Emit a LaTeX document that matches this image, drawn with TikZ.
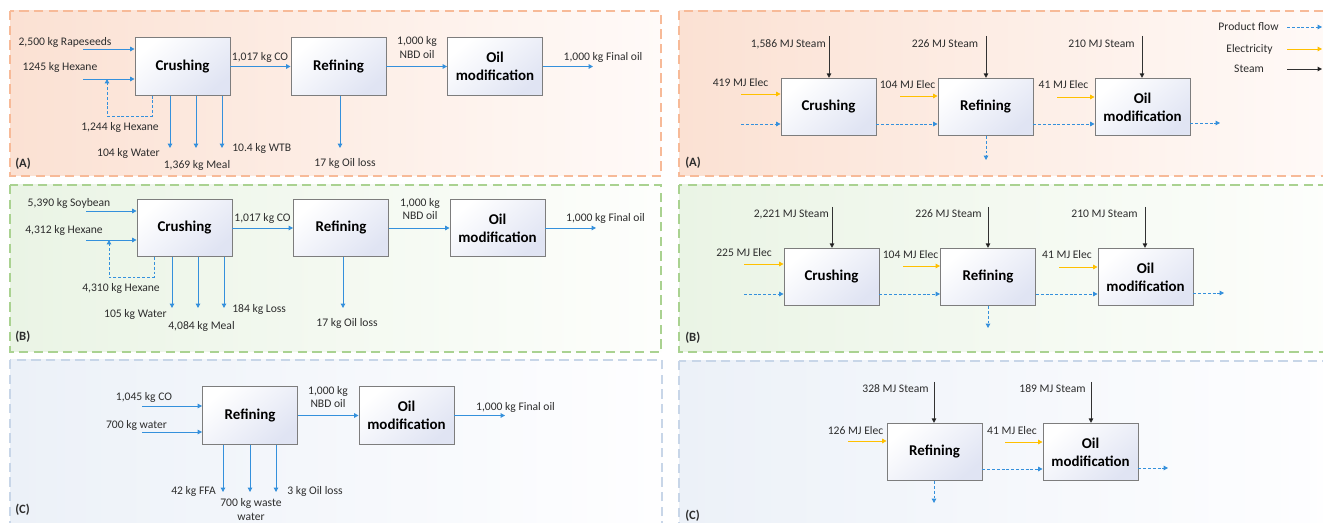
\documentclass[tikz,border=0pt]{standalone}
\usepackage{fontspec}
\setmainfont{Carlito}
\usetikzlibrary{arrows.meta}

\definecolor{txt}{RGB}{45,45,45}
\definecolor{flow}{RGB}{52,144,220}
\definecolor{elecc}{RGB}{255,192,0}
\definecolor{steamc}{RGB}{50,50,50}
\definecolor{boxline}{RGB}{125,125,125}
\definecolor{boxtl}{RGB}{224,228,243}
% panel frames and tints
\definecolor{orframe}{RGB}{247,186,152}
\definecolor{orL}{RGB}{251,225,211}
\definecolor{orM}{RGB}{253,238,230}
\definecolor{orR}{RGB}{255,250,248}
\definecolor{grframe}{RGB}{170,210,145}
\definecolor{grL}{RGB}{234,244,229}
\definecolor{grM}{RGB}{244,249,241}
\definecolor{grR}{RGB}{253,254,252}
\definecolor{blframe}{RGB}{200,214,232}
\definecolor{blL}{RGB}{236,241,248}
\definecolor{blM}{RGB}{245,247,251}
\definecolor{blR}{RGB}{254,254,255}

\tikzset{
  lbl/.style={font=\fontsize{8.7}{9.8}\selectfont, text=txt, inner sep=0pt, align=center},
  tag/.style={font=\bfseries\fontsize{9.5}{11}\selectfont, text=txt, inner sep=0pt, anchor=west},
  unit/.style={draw=boxline, line width=0.7pt, top color=white, bottom color=boxtl,
    shading angle=40, minimum width=71.25pt, minimum height=43pt,
    inner sep=0pt, align=center, font=\bfseries\fontsize{11.2}{13.5}\selectfont},
  mass/.style={draw=flow, line width=0.7pt, -{Triangle[length=3.3pt,width=3.4pt]}},
  prod/.style={mass, dash pattern=on 2.2pt off 1.4pt},
  elec/.style={draw=elecc, line width=0.7pt, -{Triangle[length=3.3pt,width=3.4pt]}},
  steam/.style={draw=steamc, line width=0.6pt, -{Triangle[length=3.3pt,width=3.4pt,fill=black]}},
  panel/.style={line width=1.1pt, dash pattern=on 7pt off 4pt},
}

\begin{document}
\begin{tikzpicture}[x=0.75pt,y=-0.75pt]
\useasboundingbox (0,0) rectangle (1323,523);
\clip (0,0) rectangle (1323,523);
\fill[white] (0,0) rectangle (1323,523);

% ---------- panel backgrounds ----------
\shade[left color=orL, middle color=orM, right color=orR] (10,11) rectangle (661,176);
\draw[panel, orframe] (10,11) rectangle (661,176);
\shade[left color=grL, middle color=grM, right color=grR] (10,185) rectangle (661,352);
\draw[panel, grframe] (10,185) rectangle (661,352);
\shade[left color=blL, middle color=blM, right color=blR] (10,360) rectangle (662,530);
\draw[panel, blframe] (10,360) rectangle (662,530);

\shade[left color=orL, middle color=orM, right color=orR] (679,11) rectangle (1335,176);
\draw[panel, orframe] (679,11) rectangle (1335,176);
\shade[left color=grL, middle color=grM, right color=grR] (679,185) rectangle (1335,352);
\draw[panel, grframe] (679,185) rectangle (1335,352);
\shade[left color=blL, middle color=blM, right color=blR] (679,361) rectangle (1335,530);
\draw[panel, blframe] (679,361) rectangle (1335,530);

% =====================================================
% Mass balance, rapeseed (A)
% =====================================================
\node[unit] (crA) at (182.5,66.5) {Crushing};
\node[unit] (rfA) at (338.5,66.5) {Refining};
\node[unit] (omA) at (495,66.5) {Oil\\modification};
\coordinate (inRapA) at (83,49);
\coordinate (inHexA) at (83,79);
\draw[mass] (inRapA) -- (inRapA -| crA.west);
\draw[mass] (inHexA) -- (inHexA -| crA.west);
\coordinate (rcA) at (152,116);
\coordinate (rcEndA) at (107,79);
\draw[prod] (rcA |- crA.south) -- (rcA) -| (rcEndA);
\coordinate (waterA) at (170,148);
\coordinate (mealA) at (196,148);
\coordinate (wtbA) at (222,148);
\draw[mass] (waterA |- crA.south) -- (waterA);
\draw[mass] (mealA |- crA.south) -- (mealA);
\draw[mass] (wtbA |- crA.south) -- (wtbA);
\draw[mass] (crA.east) -- (rfA.west);
\coordinate (lossA) at (340,148);
\draw[mass] (lossA |- rfA.south) -- (lossA);
\draw[mass] (rfA.east) -- (omA.west);
\coordinate (outA) at (593,66.5);
\draw[mass] (omA.east) -- (outA);

\node[lbl] (tRapA) at (65,42) {2,500 kg Rapeseeds};
\node[lbl] (tHexA) at (60,67) {1245 kg Hexane};
\node[lbl] (tRcA) at (120,127) {1,244 kg Hexane};
\node[lbl, anchor=east] (tWatA) at (160,153) {104 kg Water};
\node[lbl] (tMealA) at (197,165) {1,369 kg Meal};
\node[lbl, anchor=west] (tWtbA) at (232,148) {10.4 kg WTB};
\node[lbl] (tCoA) at (260,57) {1,017 kg CO};
\node[lbl] (tLossA) at (345,163) {17 kg Oil loss};
\node[lbl] (tNbdA) at (417,47.5) {1,000 kg\\NBD oil};
\node[lbl] (tFinA) at (603,57) {1,000 kg Final oil};
\node[tag] (tagLA) at (15,164) {(A)};

% =====================================================
% Mass balance, soybean (B)
% =====================================================
\node[unit] (crB) at (184.5,228) {Crushing};
\node[unit] (rfB) at (341,228) {Refining};
\node[unit] (omB) at (497.5,228) {Oil\\modification};
\coordinate (inSoyB) at (86,211);
\coordinate (inHexB) at (86,240);
\draw[mass] (inSoyB) -- (inSoyB -| crB.west);
\draw[mass] (inHexB) -- (inHexB -| crB.west);
\coordinate (rcB) at (154,277);
\coordinate (rcEndB) at (109,240);
\draw[prod] (rcB |- crB.south) -- (rcB) -| (rcEndB);
\coordinate (waterB) at (172,308);
\coordinate (mealB) at (198,308);
\coordinate (lsB) at (224,308);
\draw[mass] (waterB |- crB.south) -- (waterB);
\draw[mass] (mealB |- crB.south) -- (mealB);
\draw[mass] (lsB |- crB.south) -- (lsB);
\draw[mass] (crB.east) -- (rfB.west);
\coordinate (lossB) at (343,308);
\draw[mass] (lossB |- rfB.south) -- (lossB);
\draw[mass] (rfB.east) -- (omB.west);
\coordinate (outB) at (596,228);
\draw[mass] (omB.east) -- (outB);

\node[lbl] (tSoyB) at (69,203) {5,390 kg Soybean};
\node[lbl] (tHexB) at (64,230) {4,312 kg Hexane};
\node[lbl] (tRcB) at (121,288) {4,310 kg Hexane};
\node[lbl, anchor=east] (tWatB) at (167,314) {105 kg Water};
\node[lbl] (tMealB) at (201.5,326) {4,084 kg Meal};
\node[lbl, anchor=west] (tLsB) at (232,309) {184 kg Loss};
\node[lbl] (tCoB) at (262.5,218) {1,017 kg CO};
\node[lbl] (tLossB) at (347,323) {17 kg Oil loss};
\node[lbl] (tNbdB) at (420,209) {1,000 kg\\NBD oil};
\node[lbl] (tFinB) at (605.5,218) {1,000 kg Final oil};
\node[tag] (tagLB) at (15,337) {(B)};

% =====================================================
% Mass balance, crude oil (C)
% =====================================================
\node[unit] (rfC) at (250,415.5) {Refining};
\node[unit] (omC) at (406.5,415.5) {Oil\\modification};
\coordinate (inCoC) at (142,406);
\coordinate (inWatC) at (142,432);
\draw[mass] (inCoC) -- (inCoC -| rfC.west);
\draw[mass] (inWatC) -- (inWatC -| rfC.west);
\coordinate (ffaC) at (223,492);
\coordinate (wwC) at (250,492);
\coordinate (lossC) at (276,492);
\draw[mass] (ffaC |- rfC.south) -- (ffaC);
\draw[mass] (wwC |- rfC.south) -- (wwC);
\draw[mass] (lossC |- rfC.south) -- (lossC);
\draw[mass] (rfC.east) -- (omC.west);
\coordinate (outC) at (505,415.5);
\draw[mass] (omC.east) -- (outC);

\node[lbl] (tCoC) at (144,397) {1,045 kg CO};
\node[lbl] (tWatC) at (136.5,425) {700 kg water};
\node[lbl, anchor=east] (tFfaC) at (216,491) {42 kg FFA};
\node[lbl] (tWwC) at (251,509.5) {700 kg waste\\water};
\node[lbl, anchor=west] (tLossC) at (287,491) {3 kg Oil loss};
\node[lbl] (tNbdC) at (328,397) {1,000 kg\\NBD oil};
\node[lbl] (tFinC) at (515.5,407) {1,000 kg Final oil};
\node[tag] (tagLC) at (15,510) {(C)};

% =====================================================
% Energy, rapeseed (A)
% =====================================================
\node[unit] (crRA) at (828.5,107) {Crushing};
\node[unit] (rfRA) at (985.5,107) {Refining};
\node[unit] (omRA) at (1142.5,107) {Oil\\modification};
\coordinate (stCrRA) at (829,36);
\coordinate (stRfRA) at (986,36);
\coordinate (stOmRA) at (1142,36);
\draw[steam] (stCrRA) -- (stCrRA |- crRA.north);
\draw[steam] (stRfRA) -- (stRfRA |- rfRA.north);
\draw[steam] (stOmRA) -- (stOmRA |- omRA.north);
\coordinate (elCrRA) at (741,94);
\coordinate (elRfRA) at (900,96);
\coordinate (elOmRA) at (1057,97);
\draw[elec] (elCrRA) -- (elCrRA -| crRA.west);
\draw[elec] (elRfRA) -- (elRfRA -| rfRA.west);
\draw[elec] (elOmRA) -- (elOmRA -| omRA.west);
\coordinate (pInRA) at (741,124);
\draw[prod] (pInRA) -- (pInRA -| crRA.west);
\draw[prod] (crRA.east |- pInRA) -- (rfRA.west |- pInRA);
\draw[prod] (rfRA.east |- pInRA) -- (omRA.west |- pInRA);
\coordinate (pOutRA) at (1220,123);
\draw[prod] (omRA.east |- pOutRA) -- (pOutRA);
\coordinate (pLossRA) at (986,160);
\draw[prod] (pLossRA |- rfRA.south) -- (pLossRA);

\node[lbl, anchor=east] (tStCrRA) at (826,44) {1,586 MJ Steam};
\node[lbl] (tStRfRA) at (945,44) {226 MJ Steam};
\node[lbl] (tStOmRA) at (1101.5,44) {210 MJ Steam};
\node[lbl] (tElCrRA) at (740.5,83) {419 MJ Elec};
\node[lbl] (tElRfRA) at (907.5,85) {104 MJ Elec};
\node[lbl] (tElOmRA) at (1063.5,85) {41 MJ Elec};
\node[tag] (tagRA) at (685,163) {(A)};

% legend
\node[lbl] (lgProd) at (1248.5,27) {Product flow};
\node[lbl] (lgElec) at (1249.5,49) {Electricity};
\node[lbl] (lgSteam) at (1249,69) {Steam};
\coordinate (lgProdA) at (1287,27);
\coordinate (lgProdB) at (1322,27);
\coordinate (lgElecA) at (1287,49);
\coordinate (lgElecB) at (1322,49);
\coordinate (lgSteamA) at (1287,69);
\coordinate (lgSteamB) at (1322,69);
\draw[prod] (lgProdA) -- (lgProdB);
\draw[elec] (lgElecA) -- (lgElecB);
\draw[steam] (lgSteamA) -- (lgSteamB);

% =====================================================
% Energy, soybean (B)
% =====================================================
\node[unit] (crRB) at (831.5,277) {Crushing};
\node[unit] (rfRB) at (988,277) {Refining};
\node[unit] (omRB) at (1145.5,277) {Oil\\modification};
\coordinate (stCrRB) at (832,207);
\coordinate (stRfRB) at (988,207);
\coordinate (stOmRB) at (1145,207);
\draw[steam] (stCrRB) -- (stCrRB |- crRB.north);
\draw[steam] (stRfRB) -- (stRfRB |- rfRB.north);
\draw[steam] (stOmRB) -- (stOmRB |- omRB.north);
\coordinate (elCrRB) at (744,264);
\coordinate (elRfRB) at (903,266);
\coordinate (elOmRB) at (1059,267);
\draw[elec] (elCrRB) -- (elCrRB -| crRB.west);
\draw[elec] (elRfRB) -- (elRfRB -| rfRB.west);
\draw[elec] (elOmRB) -- (elOmRB -| omRB.west);
\coordinate (pInRB) at (744,294);
\draw[prod] (pInRB) -- (pInRB -| crRB.west);
\draw[prod] (crRB.east |- pInRB) -- (rfRB.west |- pInRB);
\draw[prod] (rfRB.east |- pInRB) -- (omRB.west |- pInRB);
\coordinate (pOutRB) at (1224,293);
\draw[prod] (omRB.east |- pOutRB) -- (pOutRB);
\coordinate (pLossRB) at (988,328);
\draw[prod] (pLossRB |- rfRB.south) -- (pLossRB);

\node[lbl, anchor=east] (tStCrRB) at (829,214) {2,221 MJ Steam};
\node[lbl] (tStRfRB) at (948.5,214) {226 MJ Steam};
\node[lbl] (tStOmRB) at (1104.5,214) {210 MJ Steam};
\node[lbl] (tElCrRB) at (744,253) {225 MJ Elec};
\node[lbl] (tElRfRB) at (910.5,255) {104 MJ Elec};
\node[lbl] (tElOmRB) at (1067,255) {41 MJ Elec};
\node[tag] (tagRB) at (685,338) {(B)};

% =====================================================
% Energy, crude oil (C)
% =====================================================
\node[unit] (rfRC) at (934.5,452) {Refining};
\node[unit] (omRC) at (1090.5,452) {Oil\\modification};
\coordinate (stRfRC) at (934,382);
\coordinate (stOmRC) at (1091,382);
\draw[steam] (stRfRC) -- (stRfRC |- rfRC.north);
\draw[steam] (stOmRC) -- (stOmRC |- omRC.north);
\coordinate (elRfRC) at (848,441);
\coordinate (elOmRC) at (1005,442);
\draw[elec] (elRfRC) -- (elRfRC -| rfRC.west);
\draw[elec] (elOmRC) -- (elOmRC -| omRC.west);
\coordinate (pMidRC) at (1043,469);
\draw[prod] (rfRC.east |- pMidRC) -- (omRC.west |- pMidRC);
\coordinate (pOutRC) at (1168,468);
\draw[prod] (omRC.east |- pOutRC) -- (pOutRC);
\coordinate (pLossRC) at (934,503);
\draw[prod] (pLossRC |- rfRC.south) -- (pLossRC);

\node[lbl] (tStRfRC) at (895.5,389) {328 MJ Steam};
\node[lbl] (tStOmRC) at (1052.5,389) {189 MJ Steam};
\node[lbl] (tElRfRC) at (855.5,431) {126 MJ Elec};
\node[lbl] (tElOmRC) at (1012,431) {41 MJ Elec};
\node[tag] (tagRC) at (685,516) {(C)};
\end{tikzpicture}
\end{document}
